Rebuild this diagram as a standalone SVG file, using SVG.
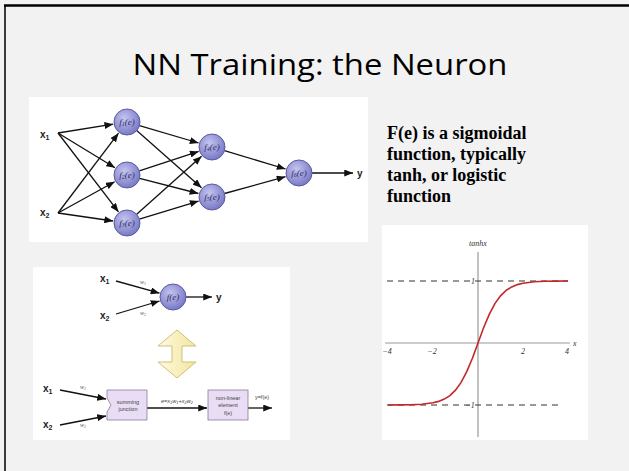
<svg xmlns="http://www.w3.org/2000/svg" width="629" height="471" viewBox="0 0 629 471">
<defs>
<style>
.nnode{fill:url(#ng);stroke:#5a5aa0;stroke-width:1}
.edge{stroke:#111;stroke-width:1.3;fill:none;marker-end:url(#ah)}
.flab{font-family:"Liberation Serif",serif;font-style:italic;font-size:9px;fill:#2a2a60;text-anchor:middle}
.xlab{font-family:"Liberation Sans",sans-serif;font-weight:bold;font-size:10px;fill:#222}
.tiny{font-family:"Liberation Sans",sans-serif;font-size:5.5px;fill:#444;text-anchor:middle}
.wlab{font-family:"Liberation Serif",serif;font-style:italic;font-size:6px;fill:#555}
.box{fill:#e9dcf5;stroke:#8a7a9a;stroke-width:0.8}
.axis{stroke:#999;stroke-width:1.2;fill:none}
.dash{stroke:#333;stroke-width:1;stroke-dasharray:6,5;fill:none}
.glab{font-family:"Liberation Serif",serif;font-style:italic;font-size:8px;fill:#333}
.body{font-family:"Liberation Serif",serif;font-weight:bold;font-size:18px;fill:#000}
</style>
<radialGradient id="ng" cx="0.4" cy="0.35" r="0.7">
<stop offset="0" stop-color="#c4c4f0"/>
<stop offset="1" stop-color="#7474c4"/>
</radialGradient>
<linearGradient id="yg" x1="0" y1="0" x2="1" y2="0">
<stop offset="0" stop-color="#fffbe0"/>
<stop offset="1" stop-color="#f2e49c"/>
</linearGradient>
<marker id="ah" viewBox="0 0 10 8" refX="10" refY="4" markerWidth="9" markerHeight="7" markerUnits="userSpaceOnUse" orient="auto">
<path d="M0,0 L10,4 L0,8 z" fill="#111"/>
</marker>
</defs>

<rect x="0" y="0" width="629" height="471" fill="#f2f2f2"/>
<line x1="5" y1="5" x2="5" y2="471" stroke="#3a3a3a" stroke-width="2"/>
<line x1="4" y1="5.5" x2="629" y2="5.5" stroke="#000" stroke-width="2.5"/>

<text x="320" y="75" font-family="Open Sans, sans-serif" font-size="29" text-anchor="middle" textLength="375" lengthAdjust="spacingAndGlyphs" fill="#000">NN Training: the Neuron</text>

<!-- image backgrounds -->
<rect x="29" y="97" width="339" height="145" fill="#fff"/>
<rect x="33" y="267" width="257" height="173" fill="#fff"/>
<rect x="382" y="225" width="206" height="215" fill="#fff"/>

<g id="connectors">
<path class="edge" d="M58,133 L113.2,124.2"/>
<path class="edge" d="M58,133 L115,167.7"/>
<path class="edge" d="M58,133 L118.5,211.9"/>
<path class="edge" d="M58,213 L118.5,133.2"/>
<path class="edge" d="M58,213 L114.7,181.8"/>
<path class="edge" d="M58,213 L113.1,221"/>
<path class="edge" d="M139.5,125.7 L198.6,143"/>
<path class="edge" d="M136.7,130.6 L201.5,187.7"/>
<path class="edge" d="M139.3,170.9 L198.7,151.4"/>
<path class="edge" d="M139.6,178.3 L198.4,193.5"/>
<path class="edge" d="M136.7,214.3 L201.6,156.3"/>
<path class="edge" d="M139.4,219.2 L198.6,201.1"/>
<path class="edge" d="M224.5,150.7 L285.6,169"/>
<path class="edge" d="M224.5,193.5 L285.5,176.7"/>
<path class="edge" d="M312,173 L353,173"/>
<path class="edge" d="M116,281 L159.5,293.2"/>
<path class="edge" d="M116,314 L159.6,301"/>
<path class="edge" d="M186,297 L212,297"/>
<path class="edge" d="M60,390 L106,399"/>
<path class="edge" d="M60,425 L106,416"/>
<path class="edge" d="M147,408 L207,408"/>
<path class="edge" d="M248,408 L272,408"/>
</g>

<text class="xlab" x="40" y="138">x<tspan font-size="7" dy="2">1</tspan></text>
<text class="xlab" x="40" y="216">x<tspan font-size="7" dy="2">2</tspan></text>
<text class="xlab" x="357" y="177" font-size="11">y</text>

<g id="n1"><circle class="nnode" cx="127" cy="122" r="13"/><text class="flab" x="127" y="125">f<tspan font-size="6" dy="1">1</tspan><tspan dy="-1">(e)</tspan></text></g>
<g id="n2"><circle class="nnode" cx="127" cy="175" r="13"/><text class="flab" x="127" y="178">f<tspan font-size="6" dy="1">2</tspan><tspan dy="-1">(e)</tspan></text></g>
<g id="n3"><circle class="nnode" cx="127" cy="223" r="13"/><text class="flab" x="127" y="226">f<tspan font-size="6" dy="1">3</tspan><tspan dy="-1">(e)</tspan></text></g>
<g id="n4"><circle class="nnode" cx="212" cy="147" r="13"/><text class="flab" x="212" y="150">f<tspan font-size="6" dy="1">4</tspan><tspan dy="-1">(e)</tspan></text></g>
<g id="n5"><circle class="nnode" cx="212" cy="197" r="13"/><text class="flab" x="212" y="200">f<tspan font-size="6" dy="1">5</tspan><tspan dy="-1">(e)</tspan></text></g>
<g id="n6"><circle class="nnode" cx="299" cy="173" r="13"/><text class="flab" x="299" y="176">f<tspan font-size="6" dy="1">6</tspan><tspan dy="-1">(e)</tspan></text></g>

<g id="neuron">
<circle class="nnode" cx="173" cy="297" r="13"/>
<text class="flab" x="173" y="300">f(e)</text>
</g>
<text class="xlab" x="100" y="282">x<tspan font-size="7" dy="2">1</tspan></text>
<text class="xlab" x="100" y="319">x<tspan font-size="7" dy="2">2</tspan></text>
<text class="wlab" x="140" y="284">w<tspan font-size="4" dy="1">1</tspan></text>
<text class="wlab" x="140" y="315">w<tspan font-size="4" dy="1">2</tspan></text>
<text class="xlab" x="216" y="301" font-size="11">y</text>

<g id="dblarrow">
<path d="M177,330 L196,346 L182,346 L182,362 L196,362 L177,378 L158,362 L172,362 L172,346 L158,346 Z" fill="url(#yg)" stroke="#cfbf7c" stroke-width="1"/>
</g>

<text class="xlab" x="43" y="392">x<tspan font-size="7" dy="2">1</tspan></text>
<text class="xlab" x="43" y="428">x<tspan font-size="7" dy="2">2</tspan></text>
<text class="wlab" x="80" y="389">w<tspan font-size="4" dy="1">1</tspan></text>
<text class="wlab" x="80" y="427">w<tspan font-size="4" dy="1">2</tspan></text>

<g id="summing">
<path class="box" d="M107,390 H147 V420 H107 V412 L111,405 L107,398 Z"/>
<text class="tiny" x="128" y="404">summing</text>
<text class="tiny" x="128" y="411">junction</text>
</g>
<text class="tiny" x="177" y="403" font-style="italic">e=x<tspan font-size="4" dy="1">1</tspan><tspan dy="-1">w</tspan><tspan font-size="4" dy="1">1</tspan><tspan dy="-1">+x</tspan><tspan font-size="4" dy="1">2</tspan><tspan dy="-1">w</tspan><tspan font-size="4" dy="1">2</tspan></text>
<g id="nonlinear">
<rect class="box" x="208" y="390" width="40" height="30"/>
<text class="tiny" x="228" y="400">non-linear</text>
<text class="tiny" x="228" y="407">element</text>
<text class="tiny" x="228" y="415" font-size="6.5">f(e)</text>
</g>
<text class="tiny" x="262" y="399">y=f(e)</text>

<!-- Right text -->
<text class="body" x="387" y="139">F(e) is a sigmoidal</text>
<text class="body" x="387" y="160">function, typically</text>
<text class="body" x="387" y="181">tanh, or logistic</text>
<text class="body" x="387" y="202">function</text>

<!-- tanh graph -->
<g id="graph">
<line class="axis" x1="478" y1="252" x2="478" y2="437"/>
<line class="axis" x1="385" y1="343" x2="570" y2="343"/>
<line class="dash" x1="387" y1="281" x2="568" y2="281"/>
<line class="dash" x1="387" y1="405" x2="562" y2="405"/>
<text class="glab" x="478" y="246" text-anchor="middle" font-style="normal">tanh<tspan font-style="italic">x</tspan></text>
<text class="glab" x="573" y="346">x</text>
<text class="glab" x="387" y="354" text-anchor="middle">−4</text>
<text class="glab" x="432" y="354" text-anchor="middle">−2</text>
<text class="glab" x="523" y="354" text-anchor="middle">2</text>
<text class="glab" x="567" y="354" text-anchor="middle">4</text>
<text class="glab" x="473" y="284" text-anchor="middle">1</text>
<text class="glab" x="470" y="408" text-anchor="middle">−1</text>
<polyline fill="none" stroke="#c0282a" stroke-width="1.6" points="388,405 399.25,404.9 410.5,404.7 421.75,404.2 433,402.8 438.6,401.4 444.25,399.1 449.9,395.6 455.5,390.2 461.1,382.4 466.75,371.65 472.4,358.2 478,343 483.6,327.8 489.25,314.35 494.9,303.6 500.5,295.8 506.1,290.4 511.75,286.9 517.4,284.6 523,283.2 534.25,281.8 545.5,281.3 556.75,281.1 568,281"/>
</g>
</svg>
